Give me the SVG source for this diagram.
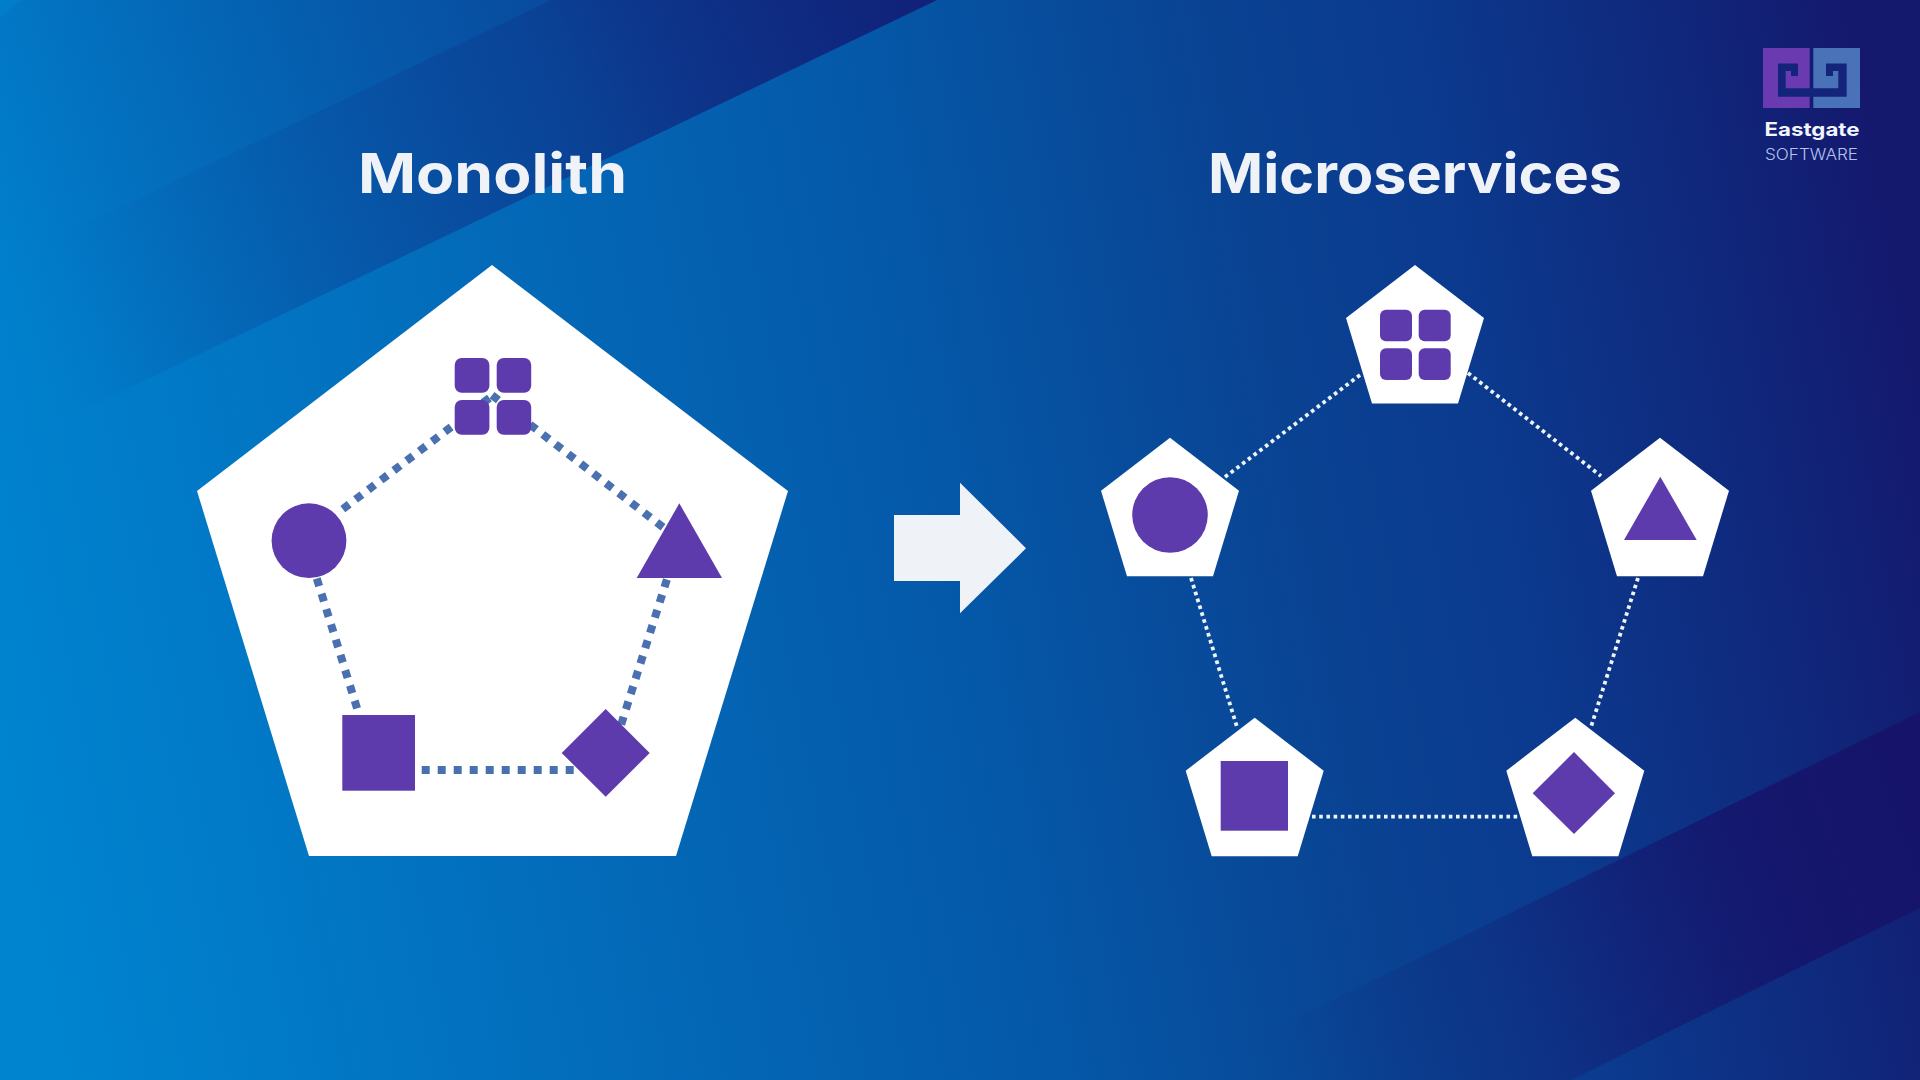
<svg xmlns="http://www.w3.org/2000/svg" width="1920" height="1080" viewBox="0 0 1920 1080">
<style>
.icon{fill:#5e3bac}
.body{fill:#ffffff}
.title{font-family:Inter,"Liberation Sans",sans-serif;font-weight:700;font-size:55px;fill:#eff3f8}
.thick{fill:none;stroke:#4a70b0;stroke-width:8;stroke-dasharray:8 8}
.thin{fill:none;stroke:#eef5fb;stroke-width:3.8;stroke-dasharray:3.6 3.6}
</style>
<defs>
<linearGradient id="bg" gradientUnits="userSpaceOnUse" x1="0" y1="760" x2="1920" y2="400">
<stop offset="0" stop-color="#0084d0"/>
<stop offset="0.5" stop-color="#0558a8"/>
<stop offset="0.68" stop-color="#0a4292"/>
<stop offset="0.78" stop-color="#0b3a8e"/>
<stop offset="0.92" stop-color="#10267a"/>
<stop offset="1" stop-color="#14196e"/>
</linearGradient>
<linearGradient id="band0" gradientUnits="userSpaceOnUse" x1="0" y1="280" x2="620" y2="0">
<stop offset="0" stop-color="#10207a" stop-opacity="0"/>
<stop offset="1" stop-color="#10207a" stop-opacity="0.42"/>
</linearGradient>
<linearGradient id="band1" gradientUnits="userSpaceOnUse" x1="100" y1="350" x2="930" y2="0">
<stop offset="0" stop-color="#121c74" stop-opacity="0"/>
<stop offset="0.6" stop-color="#121c74" stop-opacity="0.22"/>
<stop offset="1" stop-color="#121c74" stop-opacity="0.85"/>
</linearGradient>
<linearGradient id="band2" gradientUnits="userSpaceOnUse" x1="1260" y1="1030" x2="1920" y2="760">
<stop offset="0" stop-color="#15146a" stop-opacity="0"/>
<stop offset="0.35" stop-color="#15146a" stop-opacity="0.25"/>
<stop offset="0.75" stop-color="#15146a" stop-opacity="0.85"/>
<stop offset="1" stop-color="#15146a" stop-opacity="1"/>
</linearGradient>
<polygon id="penta" points="0,0 69,53 43,138.5 -43,138.5 -69,53"/>
</defs>

<rect width="1920" height="1080" fill="url(#bg)"/>
<polygon points="21,0 937,0 0,450 0,17" fill="url(#band0)"/>
<polygon points="551,0 937,0 0,450 0,265" fill="url(#band1)"/>
<polygon points="1920,712 1920,908 1571,1080 1170,1080" fill="url(#band2)"/>

<text class="title" x="358" y="193" textLength="269" lengthAdjust="spacingAndGlyphs">Monolith</text>
<text class="title" x="1208" y="193" textLength="414" lengthAdjust="spacingAndGlyphs">Microservices</text>

<g id="monolith-body"><polygon class="body" points="492,265 788,491 676,856 309,856 197,491"/></g>

<g id="connectors">
<path class="thick" d="M342.8 509.1L492 396"/>
<path class="thick" d="M492.1 395.2L664 528"/>
<path class="thick" d="M316.8 578.5L357.2 708.8"/>
<path class="thick" d="M666.9 579.5L621 725"/>
<path class="thick" d="M421.7 770H574"/>
<path class="thin" d="M1225 477L1360 375"/>
<path class="thin" d="M1468 373L1601 476"/>
<path class="thin" d="M1191 578L1237 727"/>
<path class="thin" d="M1638 578L1591 727"/>
<path class="thin" d="M1312 816.7H1520"/>
</g>

<g id="monolith-grid" class="icon">
<rect x="454.7" y="358" width="34.7" height="34.7" rx="7"/>
<rect x="496.7" y="358" width="34.5" height="34.7" rx="7"/>
<rect x="454.7" y="400" width="34.7" height="34.7" rx="7"/>
<rect x="496.7" y="400" width="34.5" height="34.7" rx="7"/>
</g>
<g id="monolith-circle"><circle class="icon" cx="309" cy="540.7" r="37.4"/></g>
<g id="monolith-triangle"><polygon class="icon" points="679.3,503.3 722,578 636.7,578"/></g>
<g id="monolith-square"><rect class="icon" x="342.3" y="715" width="72.7" height="75.7"/></g>
<g id="monolith-diamond"><polygon class="icon" points="605.7,709 649.7,753 605.7,796.7 561.7,753"/></g>

<g id="arrow"><polygon fill="#eff3f8" points="894,515 960,515 960,482.7 1026,548.3 960,613.3 960,581 894,581"/></g>

<g id="service-grid">
<use href="#penta" class="body" x="1415" y="265"/>
<g class="icon">
<rect x="1380" y="309.7" width="32" height="31.6" rx="6"/>
<rect x="1418.7" y="309.7" width="32" height="31.6" rx="6"/>
<rect x="1380" y="348.3" width="32" height="31.7" rx="6"/>
<rect x="1418.7" y="348.3" width="32" height="31.7" rx="6"/>
</g>
</g>
<g id="service-circle">
<use href="#penta" class="body" x="1170" y="437.7"/>
<circle class="icon" cx="1170" cy="515" r="37.8"/>
</g>
<g id="service-triangle">
<use href="#penta" class="body" x="1660" y="437.7"/>
<polygon class="icon" points="1660.3,476.7 1696.7,540 1624,540"/>
</g>
<g id="service-square">
<use href="#penta" class="body" x="1254.7" y="717.7"/>
<rect class="icon" x="1220.7" y="761" width="67.3" height="69.7"/>
</g>
<g id="service-diamond">
<use href="#penta" class="body" x="1575.3" y="717.7"/>
<polygon class="icon" points="1574,752 1615,793.3 1574,834 1532.7,793.3"/>
</g>

<g id="logo">
<rect x="1763" y="48" width="46.7" height="60" fill="#6a3ab0"/>
<rect x="1813.3" y="48" width="46.7" height="60" fill="#4a72b8"/>
<path fill="#14247a" d="M1778 63.5H1798V76H1791V71H1785.7V88.3H1838.3V71H1833V76H1826V63.5H1846.7V96.7H1778Z"/>
<text x="1812" y="136" text-anchor="middle" font-family="Inter,'Liberation Sans',sans-serif" font-weight="700" font-size="18.5" fill="#f2f5fb" textLength="95" lengthAdjust="spacingAndGlyphs">Eastgate</text>
<text x="1811.5" y="160" text-anchor="middle" font-family="Inter,'Liberation Sans',sans-serif" font-weight="300" font-size="15.5" fill="#b4c4ee" textLength="93" lengthAdjust="spacingAndGlyphs">SOFTWARE</text>
</g>
</svg>
